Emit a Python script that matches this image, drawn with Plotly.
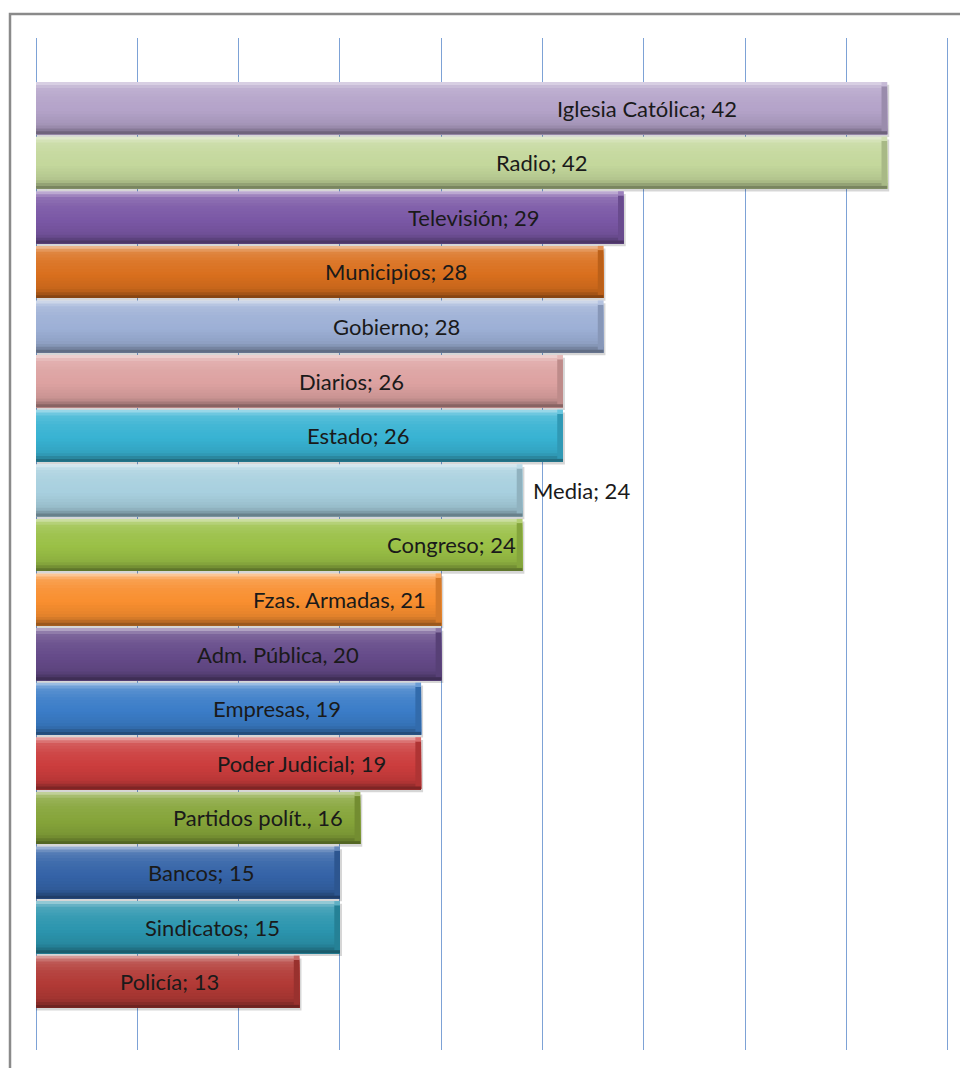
import plotly.graph_objects as go

categories = ["Iglesia Católica", "Radio", "Televisión", "Municipios", "Gobierno",
              "Diarios", "Estado", "Media", "Congreso", "Fzas. Armadas",
              "Adm. Pública", "Empresas", "Poder Judicial", "Partidos polít.",
              "Bancos", "Sindicatos", "Policía"]
values = [42, 42, 29, 28, 28, 26, 26, 24, 24, 20, 20, 19, 19, 16, 15, 15, 13]
labels = ["Iglesia Católica; 42", "Radio; 42", "Televisión; 29", "Municipios; 28",
          "Gobierno; 28", "Diarios; 26", "Estado; 26", "Media; 24", "Congreso; 24",
          "Fzas. Armadas, 21", "Adm. Pública, 20", "Empresas, 19", "Poder Judicial; 19",
          "Partidos polít., 16", "Bancos; 15", "Sindicatos; 15", "Policía; 13"]
label_x = [30.15, 24.97, 21.61, 17.76, 17.81, 15.59, 15.89, 26.94, 20.48,
           15.0, 11.94, 11.89, 13.08, 10.95, 8.14, 8.73, 6.61]
colors = ["#B4A3C9", "#C4D89C", "#7B58A6", "#DA701E", "#9DB0D6", "#DDA2A1",
          "#38B3D3", "#A8D0DF", "#9AC046", "#F98F30", "#664B8A", "#3B7DC8",
          "#CC3D3D", "#86A53A", "#3564A8", "#2C96AF", "#B23A36"]


def hex2rgb(h):
    h = h.lstrip("#")
    return tuple(int(h[i:i + 2], 16) for i in (0, 2, 4))


def shade(h, amt):
    r, g, b = hex2rgb(h)
    if amt >= 0:
        r, g, b = (int(c + (255 - c) * amt) for c in (r, g, b))
    else:
        r, g, b = (int(c * (1 + amt)) for c in (r, g, b))
    return f"rgb({r},{g},{b})"


# vertical bevel/gradient profile: (position from top, shade amount)
profile = [(0.0, 0.62), (0.05, 0.38), (0.12, 0.16), (0.3, 0.06), (0.55, 0.0),
           (0.8, -0.08), (0.88, -0.16), (0.94, -0.3), (1.0, -0.45)]


def prof(t):
    for (t0, a0), (t1, a1) in zip(profile[:-1], profile[1:]):
        if t0 <= t <= t1:
            return a0 + (a1 - a0) * (t - t0) / (t1 - t0)
    return profile[-1][1]


W = 0.955
NB = 18
fig = go.Figure()

# soft shadow
fig.add_trace(go.Bar(y=categories, x=[v + 0.1 for v in values], orientation="h",
                     width=W, offset=-W / 2 + 0.05,
                     marker=dict(color="rgba(0,0,0,0.16)", line_width=0),
                     hoverinfo="skip", showlegend=False))

# gradient bands: each band runs from its start to the bar bottom, later ones cover earlier
for i in range(NB):
    f0, f1 = i / NB, (i + 1) / NB
    amt = prof((f0 + f1) / 2)
    fig.add_trace(go.Bar(y=categories, x=values, orientation="h",
                         width=W * (1 - f0), offset=-W / 2 + W * f0,
                         marker=dict(color=[shade(c, amt) for c in colors], line_width=0),
                         hoverinfo="skip", showlegend=False))

# right end bevel
cap = 0.28
fig.add_trace(go.Bar(y=categories, x=[cap] * len(values), base=[v - cap for v in values],
                     orientation="h", width=W * 0.86, offset=-W / 2 + W * 0.08,
                     marker=dict(color=[shade(c, -0.14) for c in colors], line_width=0),
                     hoverinfo="skip", showlegend=False))
fig.add_trace(go.Bar(y=categories, x=[cap] * len(values), base=[v - cap for v in values],
                     orientation="h", width=W * 0.08, offset=-W / 2,
                     marker=dict(color=[shade(c, 0.25) for c in colors], line_width=0),
                     hoverinfo="skip", showlegend=False))

# labels
for cat, lx, txt in zip(categories, label_x, labels):
    fig.add_annotation(x=lx, y=cat, text=txt, showarrow=False, xanchor="center",
                       yanchor="middle", yshift=0,
                       font=dict(family="Lato", size=22, color="#1a1a1a"))

# outer frame (chart area border)
pw, ph = 914.0, 1012.0
fig.add_shape(type="rect", xref="paper", yref="paper",
              x0=(10 - 36) / pw, x1=(990 - 36) / pw,
              y0=(1050 - 1090) / ph, y1=(1050 - 14) / ph,
              line=dict(color="#8a8a8a", width=2.5), fillcolor="rgba(0,0,0,0)",
              layer="below")

fig.update_layout(
    width=960, height=1068,
    margin=dict(l=36, r=10, t=38, b=18),
    paper_bgcolor="white", plot_bgcolor="white",
    barmode="overlay", showlegend=False,
    xaxis=dict(range=[0, 45.1], dtick=5, tick0=0, showgrid=True, gridcolor="#7DA2D6",
               gridwidth=1, zeroline=True, zerolinecolor="#7DA2D6", zerolinewidth=1,
               showticklabels=False, ticks="", showline=False, fixedrange=True),
    yaxis=dict(type="category", categoryorder="array", categoryarray=categories,
               range=[17.25, -1.285], autorange=False, showticklabels=False,
               ticks="", showgrid=False, zeroline=False, showline=False, fixedrange=True),
)

fig.write_html("out.html")
